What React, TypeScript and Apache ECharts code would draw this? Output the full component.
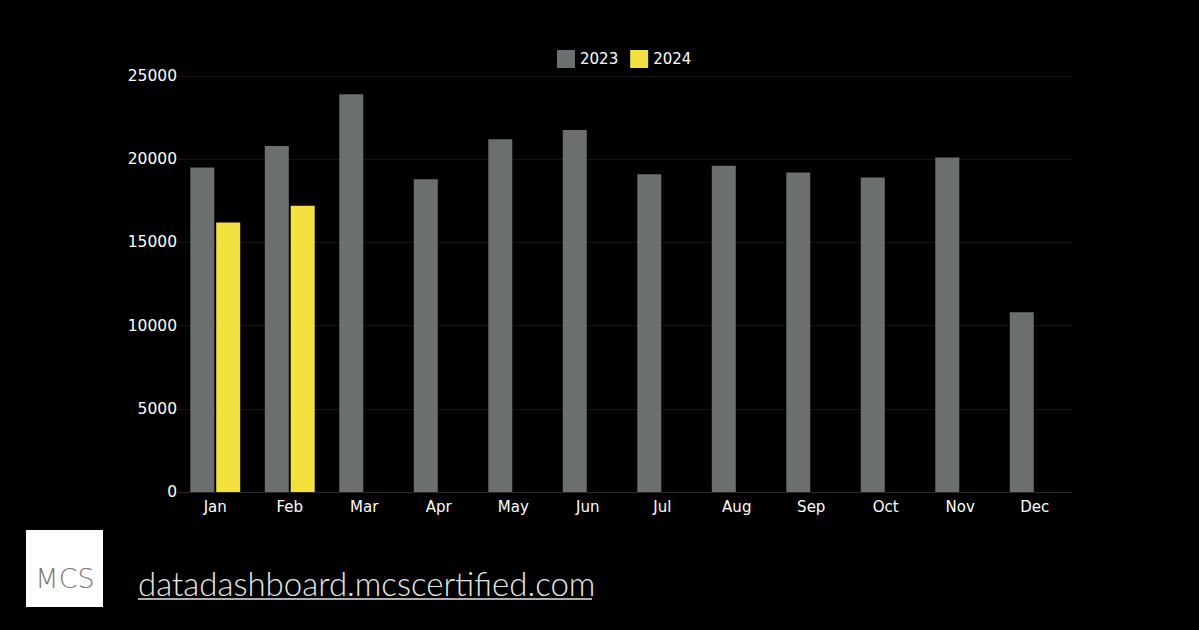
import React, { useEffect, useRef } from "react";
import * as echarts from "echarts";

const months = ["Jan", "Feb", "Mar", "Apr", "May", "Jun", "Jul", "Aug", "Sep", "Oct", "Nov", "Dec"];
const values2023 = [19500, 20800, 23900, 18800, 21200, 21750, 19100, 19600, 19200, 18900, 20100, 10800];
const values2024: (number | null)[] = [16200, 17200, null, null, null, null, null, null, null, null, null, null];
const yTicks = [0, 5000, 10000, 15000, 20000, 25000];

const FONT = "'DejaVu Sans', 'Noto Sans', sans-serif";

export default function App() {
  const ref = useRef<HTMLDivElement>(null);
  useEffect(() => {
    document.body.style.margin = "0";
    document.body.style.background = "#000";
    const chart = echarts.init(ref.current!, null, { renderer: "svg" });
    chart.setOption({
      animation: false,
      backgroundColor: "#000000",
      textStyle: { fontFamily: FONT },
      legend: {
        top: 45,
        left: 552,
        itemWidth: 18,
        itemHeight: 18,
        itemGap: 12,
        icon: "rect",
        textStyle: { color: "#ffffff", fontSize: 15, fontFamily: FONT, padding: [0, 0, 0, 0] },
        data: ["2023", "2024"],
      },
      grid: { left: 178, right: 127, top: 76, bottom: 138, containLabel: false },
      xAxis: {
        type: "category",
        data: months,
        axisLine: { show: true, lineStyle: { color: "#2a2a2a", width: 1 } },
        axisTick: { show: false },
        axisLabel: { color: "#ffffff", fontSize: 15, margin: 7, fontFamily: FONT },
      },
      yAxis: {
        type: "value",
        min: yTicks[0],
        max: yTicks[yTicks.length - 1],
        interval: 5000,
        axisLine: { show: false },
        axisTick: { show: false },
        axisLabel: {
          color: "#ffffff",
          fontSize: 15.5,
          margin: 1,
          fontFamily: FONT,
          formatter: (v: number) => String(v),
        },
        splitLine: { show: true, lineStyle: { color: "#141414", width: 1 } },
      },
      series: [
        {
          name: "2023",
          type: "bar",
          data: values2023,
          barWidth: 24,
          barGap: "8%",
          itemStyle: { color: "#6b6f6f" },
        },
        {
          name: "2024",
          type: "bar",
          data: values2024,
          barWidth: 24,
          itemStyle: { color: "#f2e13f" },
        },
      ],
      graphic: [
        {
          type: "rect",
          shape: { x: 26, y: 530, width: 77, height: 77 },
          style: { fill: "#ffffff" },
        },
        {
          type: "text",
          x: 65,
          y: 578,
          style: {
            text: "MCS",
            fill: "#777777",
            font: "300 27px 'DejaVu Sans', sans-serif",
            align: "center",
            verticalAlign: "middle",
          },
        },
        {
          type: "text",
          x: 138,
          y: 583,
          style: {
            text: "datadashboard.mcscertified.com",
            fill: "#e6e6e6",
            font: "300 33px Lato, 'Noto Sans', sans-serif",
            align: "left",
            verticalAlign: "middle",
          },
        },
        {
          type: "line",
          shape: { x1: 138, y1: 599, x2: 592, y2: 599 },
          style: { stroke: "#e6e6e6", lineWidth: 1.5 },
        },
      ],
    });
    return () => chart.dispose();
  }, []);
  return <div ref={ref} style={{ width: 1199, height: 630, background: "#000" }} />;
}
